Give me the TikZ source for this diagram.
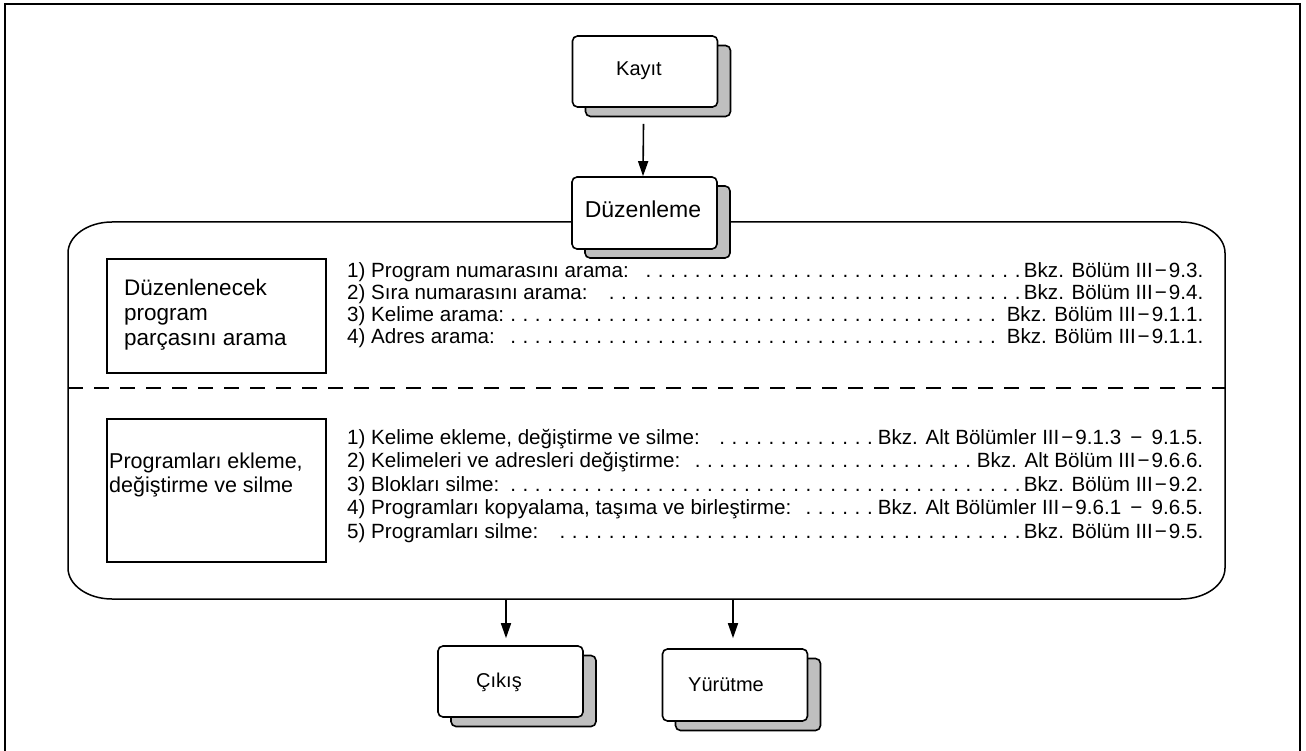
\documentclass[tikz,border=0pt]{standalone}
\usepackage{fontspec}
\setmainfont{Liberation Sans}
\usetikzlibrary{arrows.meta,calc}
\newcommand\entryrow[2]{\hbox to 856pt{#1\leaders\hbox to 12.3pt{\hss.\hss}\hfill#2}}
\newcommand\mn{\kern2pt−\kern2pt}
\tikzset{
  front/.style={draw, line width=1.6pt, rounded corners=5pt, fill=white, minimum width=145pt, minimum height=71pt, inner sep=0pt},
  shadowbox/.style={draw, line width=1.6pt, rounded corners=5pt, fill=black!25, minimum width=145pt, minimum height=71pt, inner sep=0pt},
  leftbox/.style={draw, line width=1.3pt, minimum width=219pt, inner sep=0pt},
  arr/.style={line width=1.6pt, -{Triangle[length=15pt,width=10pt]}},
  boxtext/.style={inner sep=0pt, anchor=base, font=\fontsize{20}{24}\selectfont},
  lefttext/.style={inner sep=0pt, anchor=west, align=left},
  row/.style={inner sep=0pt, anchor=base west, font=\fontsize{20.6}{22}\selectfont},
}
\begin{document}
\begin{tikzpicture}[x=1pt,y=-1pt]
\useasboundingbox (0,0) rectangle (1306,751);
% outer frame
\draw[line width=2pt] (5,751) -- (5,4) -- (1300,4) -- (1300,751);
% big rounded frame
\draw[line width=1.5pt] (112,222) -- (1181,222)
  .. controls (1205.3,222) and (1225,236) .. (1225,253) -- (1225,568)
  .. controls (1225,585) and (1205.3,599) .. (1181,599) -- (112,599)
  .. controls (87.7,599) and (68,585) .. (68,568) -- (68,253)
  .. controls (68,236) and (87.7,222) .. (112,222) -- cycle;
\draw[line width=1.2pt, dash pattern=on 15pt off 11pt] (68,388) -- (1225,388);
% Kayit
\node[shadowbox] (kayitsh) at (658,81) {};
\node[front] (kayit) at (645,71.5) {};
\node[boxtext] at (639,76) {Kayıt};
% Duzenleme
\node[shadowbox, minimum height=72pt] (duzsh) at (657.5,222) {};
\node[front, minimum height=72pt] (duz) at (644.5,213) {};
\node[boxtext, font=\fontsize{23}{27}\selectfont] at (643,218) {Düzenleme};
\draw[arr] ([xshift=-1.5pt, yshift=-16pt]kayit.south) -- ([xshift=-1.5pt]duz.north);
% left boxes
\node[leftbox, minimum height=114pt] (search) at (216.5,316) {};
\node[lefttext, font=\fontsize{22.5}{25}\selectfont] at (124,315) {Düzenlenecek\\program\\parçasını arama};
\node[leftbox, minimum height=143pt] (edit) at (216.5,490.5) {};
\node[lefttext, font=\fontsize{21.5}{24}\selectfont] at (109,475) {Programları ekleme,\\değiştirme ve silme};
% top list
\node[row] (a1) at (347,277) {\entryrow{1) Program numarasını arama: }{Bkz. Bölüm III\mn9.3.}};
\node[row] (a2) at (347,299) {\entryrow{2) Sıra numarasını arama: }{Bkz. Bölüm III\mn9.4.}};
\node[row] (a3) at (347,321) {\entryrow{3) Kelime arama:}{Bkz. Bölüm III\mn9.1.1.}};
\node[row] (a4) at (347,343) {\entryrow{4) Adres arama: }{Bkz. Bölüm III\mn9.1.1.}};
% bottom list
\node[row] (b1) at (347,444) {\entryrow{1) Kelime ekleme, değiştirme ve silme: }{Bkz. Alt Bölümler III\mn9.1.3 \,−\, 9.1.5.}};
\node[row] (b2) at (347,467.5) {\entryrow{2) Kelimeleri ve adresleri değiştirme: }{Bkz. Alt Bölüm III\mn9.6.6.}};
\node[row] (b3) at (347,491) {\entryrow{3) Blokları silme: }{Bkz. Bölüm III\mn9.2.}};
\node[row] (b4) at (347,514.5) {\entryrow{4) Programları kopyalama, taşıma ve birleştirme:}{Bkz. Alt Bölümler III\mn9.6.1 \,−\, 9.6.5.}};
\node[row] (b5) at (347,538) {\entryrow{5) Programları silme: }{Bkz. Bölüm III\mn9.5.}};
% output boxes
\node[shadowbox] (cikissh) at (523.5,691) {};
\node[front] (cikis) at (510.5,681.5) {};
\node[boxtext] at (499,687) {Çıkış};
\node[shadowbox, minimum height=72pt] (yursh) at (748,694.5) {};
\node[front, minimum height=72pt] (yur) at (735,685) {};
\node[boxtext] at (726,691) {Yürütme};
\coordinate (o1) at (506,599);
\coordinate (o2) at (733,599);
\draw[arr] (o1) -- ([yshift=7pt]cikis.north -| o1);
\draw[arr] (o2) -- ([yshift=10pt]yur.north -| o2);
\end{tikzpicture}
\end{document}
